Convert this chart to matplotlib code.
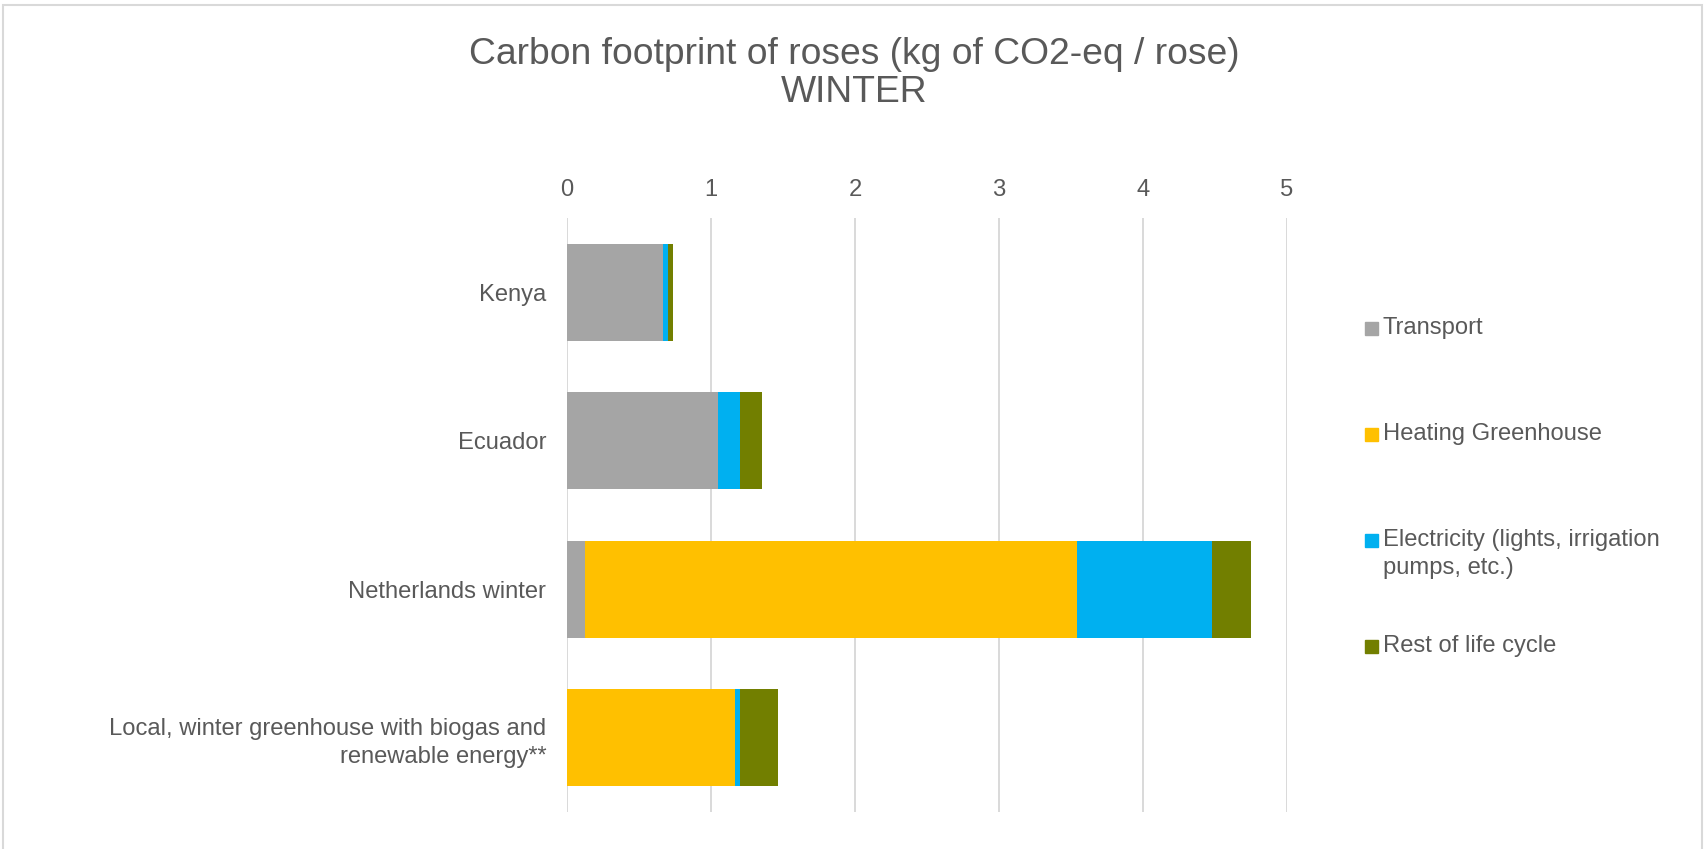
import matplotlib
matplotlib.use("Agg")
import matplotlib.pyplot as plt
from matplotlib.patches import Rectangle
import numpy as np

categories = ["Kenya", "Ecuador", "Netherlands winter",
              "Local, winter greenhouse with biogas and\nrenewable energy**"]
series_names = ["Transport", "Heating Greenhouse",
                "Electricity (lights, irrigation\npumps, etc.)", "Rest of life cycle"]
transport = [0.67, 1.05, 0.125, 0.0]
heating = [0.0, 0.0, 3.42, 1.17]
electricity = [0.028, 0.148, 0.935, 0.03]
rest = [0.038, 0.157, 0.272, 0.262]
colors = ["#a5a5a5", "#ffc000", "#00b0f0", "#727f00"]
xticks = [0, 1, 2, 3, 4, 5]

W, H = 1708, 849
plt.rcParams['font.family'] = ['Liberation Sans', 'DejaVu Sans']
txt = "#595959"
fs = 17.1

fig = plt.figure(figsize=(W / 100, H / 100), dpi=100)
ax = fig.add_axes([567 / W, 1 - 812 / H, 720 / W, 594 / H])

y = np.arange(len(categories))
left = np.zeros(len(categories))
for vals, name, c in zip([transport, heating, electricity, rest], series_names, colors):
    ax.barh(y, vals, left=left, height=0.65, color=c, label=name, zorder=3)
    left = left + np.array(vals)

ax.set_xlim(0, 5)
ax.set_ylim(len(categories) - 0.5, -0.5)
ax.set_xticks(xticks)
ax.set_xticklabels([str(t) for t in xticks])
ax.set_yticks(y)
ax.set_yticklabels(categories)
for lab in ax.get_yticklabels():
    lab.set_linespacing(1.32)
ax.xaxis.tick_top()
ax.tick_params(axis='x', length=0, pad=12, labelsize=fs, labelcolor=txt)
ax.tick_params(axis='y', length=0, pad=15, labelsize=fs, labelcolor=txt)
ax.grid(axis='x', color="#d9d9d9", linewidth=1.4, zorder=0)
ax.set_axisbelow(True)
for s in ax.spines.values():
    s.set_visible(False)

# title
fig.text(0.5, 1 - 55 / H, "Carbon footprint of roses (kg of CO2-eq / rose)",
         ha='center', va='center', fontsize=26.8, color=txt)
fig.text(0.5, 1 - 93 / H, "WINTER", ha='center', va='center', fontsize=26.8, color=txt)

# legend
leg_y = [328, 434, 554, 646]
for (yy, name, c) in zip(leg_y, series_names, colors):
    first_line_y = yy if "\n" not in name else 540
    fig.add_artist(Rectangle((1365 / W, 1 - (first_line_y + 6.5) / H), 13 / W, 13 / H,
                             transform=fig.transFigure, color=c))
    fig.text(1383 / W, 1 - yy / H, name, ha='left', va='center', fontsize=fs,
             color=txt, linespacing=1.32)

# chart border
fig.add_artist(Rectangle((3 / W, -0.01), (1702 - 3) / W, 1 - 5 / H + 0.01,
                         transform=fig.transFigure, fill=False,
                         edgecolor="#d9d9d9", linewidth=1.5))

fig.savefig("out.png", dpi=100)
